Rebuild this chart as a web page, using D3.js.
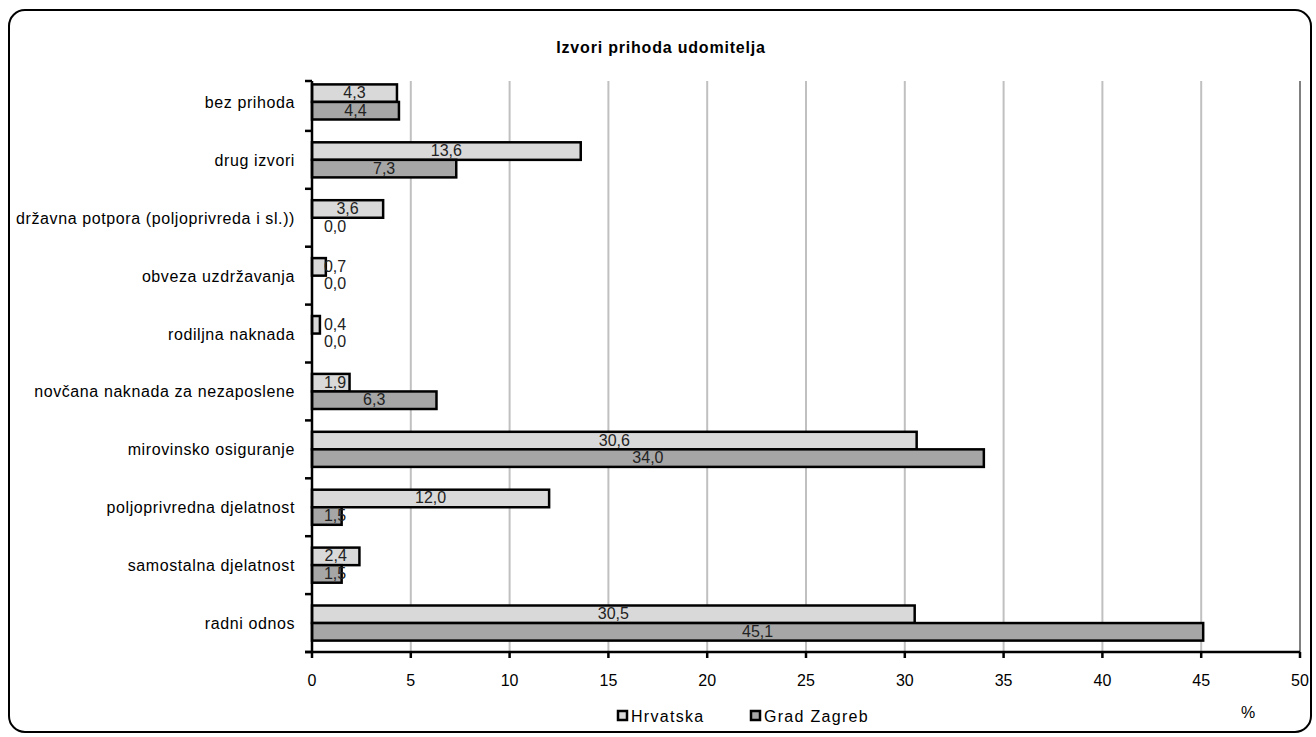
<!DOCTYPE html>
<html><head><meta charset="utf-8">
<script src="https://cdn.jsdelivr.net/npm/d3@7"></script>
<style>body{margin:0;background:#fff}svg{display:block;font-family:"Liberation Sans",Arial,sans-serif}</style>
</head><body><svg id="c" width="1316" height="737"></svg>
<script>
const categories = ["bez prihoda","drug izvori","državna potpora (poljoprivreda i sl.))","obveza uzdržavanja","rodiljna naknada","novčana naknada za nezaposlene","mirovinsko osiguranje","poljoprivredna djelatnost","samostalna djelatnost","radni odnos"];
const hrvatska = [4.3,13.6,3.6,0.7,0.4,1.9,30.6,12.0,2.4,30.5];
const zagreb = [4.4,7.3,0.0,0.0,0.0,6.3,34.0,1.5,1.5,45.1];
const seriesNames = ["Hrvatska","Grad Zagreb"];
const xTicks = [0,5,10,15,20,25,30,35,40,45,50];
const title = "Izvori prihoda udomitelja";

(function(){
const svg = d3.select("#c");
const colors = ["#d9d9d9","#a6a6a6"];
svg.append("rect").attr("x",9).attr("y",10).attr("width",1302).attr("height",722)
  .attr("rx",16).attr("fill","#fff").attr("stroke","#000").attr("stroke-width",2);

const x = d3.scaleLinear().domain([0,50]).range([312,1300]);
const y = d3.scaleBand().domain(categories).range([73,652]);
const sub = d3.scaleBand().domain(seriesNames).range([0,y.bandwidth()]).paddingOuter(0.65).paddingInner(0);
const pTop = 81, pBottom = 652;

svg.append("g").selectAll("line").data(xTicks.filter(d=>d>0)).join("line")
  .attr("x1",d=>x(d)).attr("x2",d=>x(d)).attr("y1",pTop).attr("y2",pBottom)
  .attr("stroke",d=>d===50?"#808080":"#c0c0c0").attr("stroke-width",2);

const data = [];
categories.forEach((c,i)=>{
  data.push({c, s:seriesNames[0], v:hrvatska[i], k:0});
  data.push({c, s:seriesNames[1], v:zagreb[i], k:1});
});
svg.append("g").selectAll("rect").data(data.filter(d=>d.v>0)).join("rect")
  .attr("x",x(0)).attr("y",d=>y(d.c)+sub(d.s))
  .attr("width",d=>x(d.v)-x(0)).attr("height",sub.bandwidth())
  .attr("fill",d=>colors[d.k]).attr("stroke","#000").attr("stroke-width",2.5);

svg.append("g").selectAll("text").data(data).join("text")
  .attr("x",d=>Math.max(x(d.v/2), x(0)+23))
  .attr("y",d=>y(d.c)+sub(d.s)+sub.bandwidth()/2+5)
  .attr("text-anchor","middle").attr("font-size",16).attr("fill","#222")
  .text(d=>d.v.toFixed(1).replace(".",","));

const yAxis = svg.append("g");
yAxis.append("line").attr("x1",312).attr("x2",312).attr("y1",pTop).attr("y2",pBottom).attr("stroke","#000").attr("stroke-width",2.5);
const bounds = [pTop].concat(categories.slice(1).map(c=>y(c))).concat([pBottom]);
yAxis.selectAll("line.t").data(bounds).join("line").attr("class","t")
  .attr("x1",305).attr("x2",312).attr("y1",d=>d).attr("y2",d=>d).attr("stroke","#000").attr("stroke-width",2.5);
svg.append("g").selectAll("text").data(categories).join("text")
  .attr("x",295).attr("y",d=>y(d)+y.bandwidth()/2+6)
  .attr("text-anchor","end").attr("font-size",16).attr("letter-spacing",0.6).attr("fill","#000").text(d=>d);

const xAxis = svg.append("g");
xAxis.append("line").attr("x1",305).attr("x2",1300).attr("y1",pBottom).attr("y2",pBottom).attr("stroke","#000").attr("stroke-width",2.5);
xAxis.selectAll("line.t").data(xTicks).join("line").attr("class","t")
  .attr("x1",d=>x(d)).attr("x2",d=>x(d)).attr("y1",pBottom).attr("y2",pBottom+6).attr("stroke","#000").attr("stroke-width",2.5);
xAxis.selectAll("text").data(xTicks).join("text")
  .attr("x",d=>x(d)).attr("y",pBottom+34).attr("text-anchor","middle").attr("font-size",16).attr("fill","#000").text(d=>d);

svg.append("text").attr("x",661).attr("y",53).attr("text-anchor","middle").attr("font-size",16).attr("letter-spacing",0.8).attr("font-weight","bold").text(title);

const lg = svg.append("g");
const lx = [617,750];
seriesNames.forEach((s,i)=>{
  lg.append("rect").attr("x",lx[i]+1).attr("y",711).attr("width",9).attr("height",9)
    .attr("fill",colors[i]).attr("stroke","#000").attr("stroke-width",2.5);
  lg.append("text").attr("x",lx[i]+14).attr("y",722).attr("font-size",16).attr("letter-spacing",1.3).text(s);
});
svg.append("text").attr("x",1248).attr("y",718).attr("text-anchor","middle").attr("font-size",16).text("%");
})();
</script></body></html>
